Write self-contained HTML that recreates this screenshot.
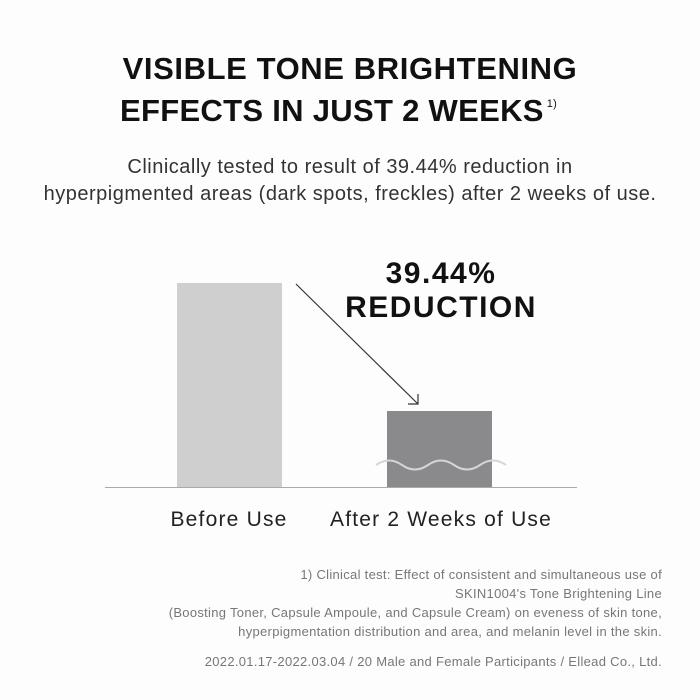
<!DOCTYPE html>
<html><head><style>
body{margin:0;width:700px;height:700px;background:#fdfdfd;font-family:"Liberation Sans",sans-serif;position:relative;overflow:hidden;color:#1a1a1a}
.t{position:absolute;left:0;width:700px;text-align:center}
</style></head><body>
<div class="t" style="top:48px;font-size:31px;font-weight:bold;line-height:42px;color:#111;letter-spacing:0.6px">VISIBLE TONE BRIGHTENING</div>
<div style="position:absolute;left:120px;top:90px;font-size:31px;font-weight:bold;line-height:42px;color:#111;letter-spacing:0.3px;white-space:nowrap">EFFECTS IN JUST 2 WEEKS<span style="position:relative;top:-14px;font-size:11px;font-weight:normal;margin-left:3px">1)</span></div>
<div class="t" style="top:154px;font-size:20px;line-height:27px;color:#333;letter-spacing:0.5px">Clinically tested to result of 39.44% reduction in<br>hyperpigmented areas (dark spots, freckles) after 2 weeks of use.</div>
<svg width="700" height="700" style="position:absolute;left:0;top:0">
<rect x="177" y="283" width="105" height="204" fill="#cfcfd0"/>
<rect x="387" y="411" width="105" height="76" fill="#8a8a8c"/>
<line x1="105" y1="487.5" x2="577" y2="487.5" stroke="#aaa" stroke-width="1"/>
<path d="M376 465 q13 -9 26 0 t26 0 t26 0 t26 0 t26 0" fill="none" stroke="#d5d5d5" stroke-width="2"/>
<line x1="296" y1="284" x2="418" y2="404" stroke="#333" stroke-width="1.2"/>
<path d="M418 394 L418 404 L408 404" fill="none" stroke="#333" stroke-width="1.2"/>
<text x="441" y="283" text-anchor="middle" font-size="30" font-weight="bold" fill="#111" font-family="Liberation Sans" letter-spacing="1.5">39.44%</text>
<text x="441" y="317" text-anchor="middle" font-size="30" font-weight="bold" fill="#111" font-family="Liberation Sans" letter-spacing="1.5">REDUCTION</text>
<text x="229" y="526" text-anchor="middle" font-size="21" fill="#222" font-family="Liberation Sans" letter-spacing="1.2">Before Use</text>
<text x="441" y="526" text-anchor="middle" font-size="21" fill="#222" font-family="Liberation Sans" letter-spacing="1.2">After 2 Weeks of Use</text>
</svg>
<div style="position:absolute;right:38px;top:565px;text-align:right;font-size:13px;line-height:19px;color:#777;letter-spacing:0.3px">1) Clinical test: Effect of consistent and simultaneous use of<br>SKIN1004's Tone Brightening Line<br>(Boosting Toner, Capsule Ampoule, and Capsule Cream) on eveness of skin tone,<br>hyperpigmentation distribution and area, and melanin level in the skin.</div>
<div style="position:absolute;right:38px;top:654px;text-align:right;font-size:13px;color:#777;letter-spacing:0.3px">2022.01.17-2022.03.04 / 20 Male and Female Participants / Ellead Co., Ltd.</div>
</body></html>
